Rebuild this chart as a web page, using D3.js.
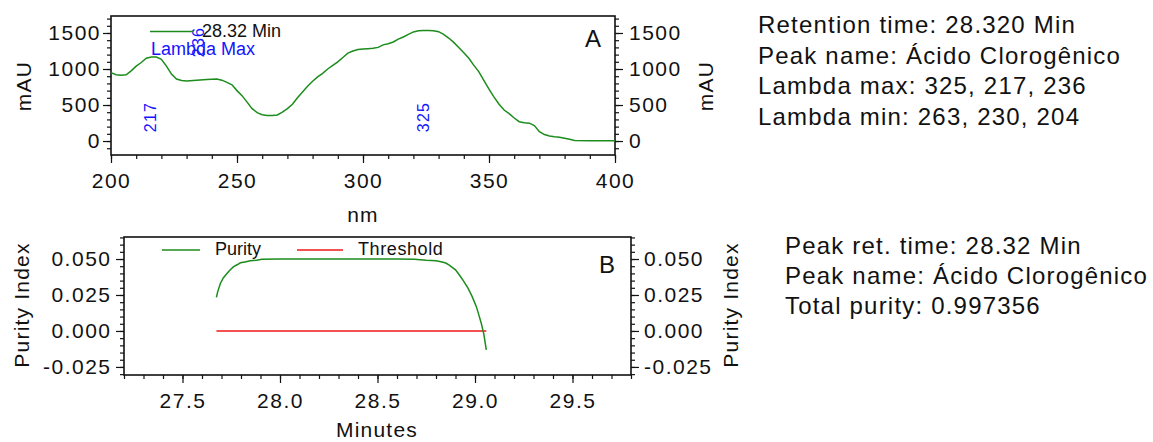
<!DOCTYPE html>
<html>
<head>
<meta charset="utf-8">
<script src="https://cdn.jsdelivr.net/npm/d3@7"></script>
<style>
  body { margin: 0; background: #fff; }
  svg { display: block; }
  text { font-family: "Liberation Sans", Arial, sans-serif; fill: #111; }
</style>
</head>
<body>
<svg id="chart" width="1153" height="442"></svg>
<script>
(function () {
  // -- data ------------------------------------------------
  var WAVELENGTH = [200, 202, 204, 206, 208, 210, 212, 214, 216, 218, 220, 222, 224, 226, 228, 230,
    234, 238, 242, 244, 246, 248, 250, 252, 254, 256, 258, 260, 262, 264, 266, 268, 270, 272, 274,
    276, 278, 280, 282, 284, 286, 288, 290, 292, 294, 296, 298, 300, 302, 304, 306, 308, 310, 312,
    314, 316, 318, 320, 322, 324, 326, 328, 330, 332, 334, 336, 338, 340, 342, 344, 346, 348, 350,
    352, 354, 356, 358, 360, 362, 364, 366, 368, 370, 372, 374, 376, 378, 380, 382, 384, 390, 400];
  var ABSORBANCE = [950, 920, 915, 920, 975, 1040, 1090, 1150, 1165, 1165, 1135, 1040, 930, 860, 840, 835,
    845, 855, 860, 845, 815, 780, 700, 630, 540, 450, 395, 365, 355, 355, 362, 400, 450, 510, 600,
    680, 760, 830, 890, 940, 1000, 1050, 1100, 1160, 1220, 1250, 1270, 1278, 1282, 1287, 1300, 1335, 1350, 1375,
    1415, 1445, 1480, 1515, 1532, 1535, 1535, 1532, 1518, 1480, 1430, 1370, 1300, 1225, 1150, 1050, 960, 840, 720,
    610, 510, 430, 380, 320, 268, 255, 248, 215, 130, 90, 70, 60, 52, 40, 25, 8, 5, 5];
  var LAMBDA_MAX = [325, 217, 236];

  var PURITY_TIME = [27.674, 27.68, 27.694, 27.71, 27.728, 27.745, 27.762, 27.78, 27.797, 27.82, 27.848,
    27.88, 27.907, 28.0, 28.2, 28.4, 28.6, 28.69, 28.75, 28.8, 28.826, 28.85, 28.868, 28.9, 28.92,
    28.94, 28.964, 28.985, 29.007, 29.02, 29.032, 29.045, 29.058];
  var PURITY_INDEX = [0.0234, 0.027, 0.033, 0.037, 0.040, 0.0425, 0.0447, 0.046, 0.0474, 0.048, 0.0488,
    0.0492, 0.0498, 0.0500, 0.0500, 0.0500, 0.0500, 0.0499, 0.0492, 0.0488, 0.0481, 0.0472, 0.0458, 0.0425, 0.0389,
    0.035, 0.0297, 0.024, 0.0169, 0.011, 0.0054, -0.002, -0.0132];
  var THRESHOLD_TIME = [27.674, 29.058];
  var THRESHOLD_VALUE = [0, 0];

  var NM_TICKS = [200, 250, 300, 350, 400];
  var MAU_TICKS = [0, 500, 1000, 1500];
  var MIN_TICKS = [27.5, 28.0, 28.5, 29.0, 29.5];
  var PURITY_TICKS = [-0.025, 0, 0.025, 0.05];

  var INFO_A = ['Retention time: 28.320 Min', 'Peak name: Ácido Clorogênico',
    'Lambda max: 325, 217, 236', 'Lambda min: 263, 230, 204'];
  var INFO_B = ['Peak ret. time: 28.32 Min', 'Peak name: Ácido Clorogênico', 'Total purity: 0.997356'];

  var GREEN = '#1c8c1c';
  var RED = '#f01818';
  var BLUE = '#1414ff';

  var svg = d3.select('#chart');

  function styleTicks(g, size, spacing) {
    g.select('.domain').remove();
    g.selectAll('line').attr('stroke', '#111').attr('stroke-width', 1.2);
    g.selectAll('text')
      .attr('font-family', '"Liberation Sans", Arial, sans-serif')
      .attr('font-size', size)
      .attr('letter-spacing', spacing)
      .attr('fill', '#111');
  }

  // draws a major axis with labels and a minor one without
  function axis(maker, scale, majors, minors, fmt, pad, tx, ty) {
    svg.append('g')
      .attr('transform', 'translate(' + tx + ',' + ty + ')')
      .call(maker(scale).tickValues(minors).tickSize(4).tickFormat(''))
      .call(styleTicks, 21, 1.5);
    svg.append('g')
      .attr('transform', 'translate(' + tx + ',' + ty + ')')
      .call(maker(scale).tickValues(majors).tickSize(8).tickPadding(pad).tickFormat(fmt))
      .call(styleTicks, 21, 1.5);
  }

  function rotLabel(txt, cx, cy, size, color) {
    svg.append('text')
      .attr('transform', 'translate(' + cx + ',' + cy + ') rotate(-90)')
      .attr('text-anchor', 'middle')
      .attr('dy', '0.35em')
      .attr('font-size', size)
      .attr('letter-spacing', 1.2)
      .style('fill', color || '#111')
      .text(txt);
  }

  function plainText(txt, x, y, size, color, anchor) {
    return svg.append('text')
      .attr('x', x).attr('y', y)
      .attr('text-anchor', anchor || 'start')
      .attr('font-size', size)
      .style('fill', color || '#111')
      .text(txt);
  }

  /* -- PANEL A: spectrum -------------------------------- */
  var xA = d3.scaleLinear().domain([200, 400]).range([111, 615]);
  var yA = d3.scaleLinear().domain([-194, 1736]).range([155, 16]);

  svg.append('rect')
    .attr('x', xA.range()[0]).attr('y', yA.range()[1])
    .attr('width', xA.range()[1] - xA.range()[0])
    .attr('height', yA.range()[0] - yA.range()[1])
    .attr('fill', '#fff').attr('stroke', '#111').attr('stroke-width', 1.6);

  axis(d3.axisBottom, xA, NM_TICKS, d3.range(200, 401, 10), function (d) { return d; }, 10, 0, 155);
  axis(d3.axisLeft, yA, MAU_TICKS, d3.range(-100, 1701, 100), function (d) { return d; }, 2, 111, 0);
  axis(d3.axisRight, yA, MAU_TICKS, d3.range(-100, 1701, 100), function (d) { return d; }, 6, 615, 0);

  var spectrum = WAVELENGTH.map(function (w, i) { return [w, ABSORBANCE[i]]; });
  svg.append('path')
    .datum(spectrum)
    .attr('fill', 'none')
    .attr('stroke', GREEN)
    .attr('stroke-width', 1.5)
    .attr('d', d3.line().x(function (d) { return xA(d[0]); }).y(function (d) { return yA(d[1]); }));

  LAMBDA_MAX.forEach(function (w) {
    var cy = w === 236 ? 42 : 117;
    rotLabel(w, xA(w) - 3, cy, 16, BLUE);
  });

  svg.append('line')
    .attr('x1', 150).attr('x2', 193).attr('y1', 31.5).attr('y2', 31.5)
    .attr('stroke', GREEN).attr('stroke-width', 1.5);
  plainText('28.32 Min', 202, 37, 18);
  plainText('Lambda Max', 151, 55, 18, BLUE);
  plainText('A', 593, 47, 24, null, 'middle');

  rotLabel('mAU', 24, 86, 21);
  rotLabel('mAU', 706, 86, 21);
  plainText('nm', 363, 222, 21, null, 'middle').attr('letter-spacing', 1.2);

  /* -- PANEL B: purity ---------------------------------- */
  var xB = d3.scaleLinear().domain([27.2, 29.8]).range([124, 631]);
  var yB = d3.scaleLinear().domain([-0.0306, 0.0653]).range([375, 237]);

  svg.append('rect')
    .attr('x', xB.range()[0]).attr('y', yB.range()[1])
    .attr('width', xB.range()[1] - xB.range()[0])
    .attr('height', yB.range()[0] - yB.range()[1])
    .attr('fill', '#fff').attr('stroke', '#111').attr('stroke-width', 1.6);

  var fmtB = function (d) { return d.toFixed(3); };
  axis(d3.axisBottom, xB, MIN_TICKS, d3.range(27.2, 29.81, 0.1), function (d) { return d.toFixed(1); }, 10, 0, 375);
  axis(d3.axisLeft, yB, PURITY_TICKS, d3.range(-0.030, 0.0651, 0.005), fmtB, 4.5, 124, 0);
  axis(d3.axisRight, yB, PURITY_TICKS, d3.range(-0.030, 0.0651, 0.005), fmtB, 5, 631, 0);

  var lineB = d3.line().x(function (d) { return xB(d[0]); }).y(function (d) { return yB(d[1]); });

  svg.append('path')
    .datum(THRESHOLD_TIME.map(function (t, i) { return [t, THRESHOLD_VALUE[i]]; }))
    .attr('fill', 'none').attr('stroke', RED).attr('stroke-width', 1.5)
    .attr('d', lineB);

  svg.append('path')
    .datum(PURITY_TIME.map(function (t, i) { return [t, PURITY_INDEX[i]]; }))
    .attr('fill', 'none').attr('stroke', GREEN).attr('stroke-width', 1.5)
    .attr('d', lineB);

  svg.append('line')
    .attr('x1', 162).attr('x2', 200).attr('y1', 250).attr('y2', 250)
    .attr('stroke', GREEN).attr('stroke-width', 1.5);
  plainText('Purity', 215, 255, 18);
  svg.append('line')
    .attr('x1', 297).attr('x2', 343).attr('y1', 250).attr('y2', 250)
    .attr('stroke', RED).attr('stroke-width', 1.5);
  plainText('Threshold', 358, 255, 18).attr('letter-spacing', 0.6);
  plainText('B', 607, 273, 24, null, 'middle');

  rotLabel('Purity Index', 22, 305, 21);
  rotLabel('Purity Index', 731, 305, 21);
  plainText('Minutes', 377, 437, 21, null, 'middle').attr('letter-spacing', 1.2);

  /* -- INFO TEXT ---------------------------------------- */
  INFO_A.forEach(function (s, i) {
    plainText(s, 758, 33 + i * 30.5, 24).attr('letter-spacing', 1.2);
  });
  INFO_B.forEach(function (s, i) {
    plainText(s, 785, 254 + i * 30, 24).attr('letter-spacing', 1.2);
  });
})();
</script>
</body>
</html>
